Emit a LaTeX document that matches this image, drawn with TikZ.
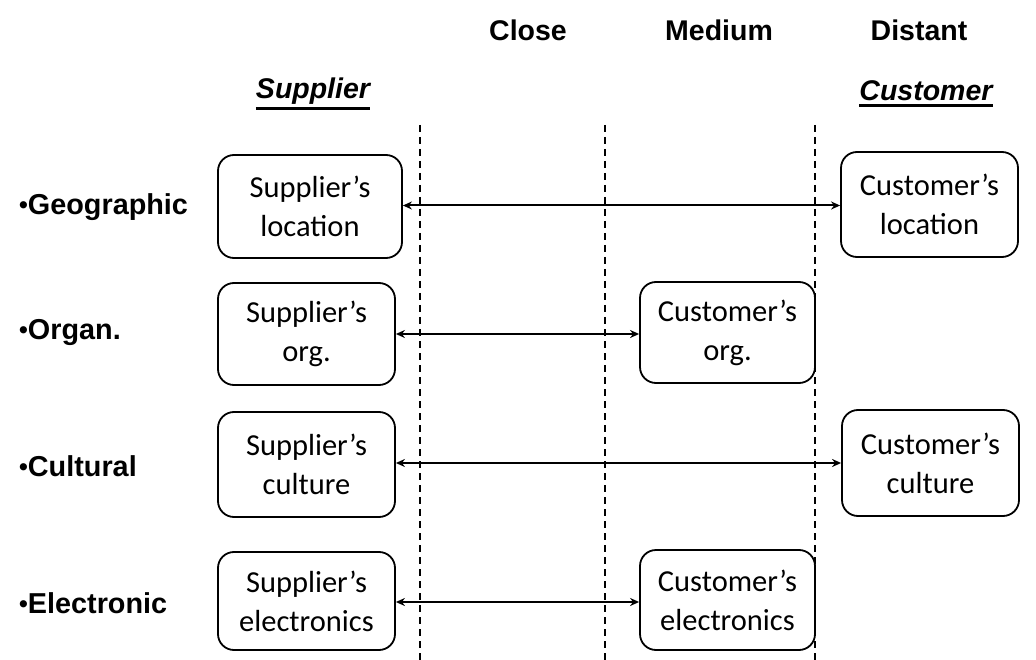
\documentclass[tikz,border=0pt]{standalone}
\usepackage{fontspec}
\setmainfont{Carlito}
\newfontfamily\arialish{Liberation Sans}
\usetikzlibrary{arrows.meta}

\tikzset{
  boxnode/.style={draw, line width=1.8pt, rounded corners=16pt, align=center,
    font=\fontsize{30.5}{39}\selectfont, inner sep=0pt},
  heading/.style={font=\arialish\bfseries\fontsize{28.5}{30}\selectfont, inner sep=0pt},
  rowlabel/.style={font=\arialish\bfseries\fontsize{28.8}{30}\selectfont, inner sep=0pt, anchor=west},
  sidelabel/.style={font=\arialish\bfseries\itshape\fontsize{28.5}{30}\selectfont, inner sep=0pt},
  divider/.style={line width=1.7pt, dash pattern=on 7pt off 5pt},
  link/.style={line width=2pt, {Stealth[length=9pt,width=8pt]}-{Stealth[length=9pt,width=8pt]}},
  uline/.style={line width=2.8pt}
}
\newcommand{\rowbullet}{{\fontsize{25}{25}\selectfont\raisebox{1pt}{•}}}

\begin{document}
\begin{tikzpicture}[x=1pt, y=-1pt]
  \useasboundingbox (0,0) rectangle (1036,660);

  % distance headings
  \node[heading] (close)   at (528,30) {Close};
  \node[heading] (medium)  at (719,30) {Medium};
  \node[heading] (distant) at (919,30) {Distant};

  % party headings, underlined
  \node[sidelabel] (suphead)  at (313,91) {Supplier};
  \node[sidelabel] (custhead) at (926,91) {Customer};
  \draw[uline] ([yshift=-4pt]suphead.south west) -- ([yshift=-4pt]suphead.south east);
  \draw[uline] ([yshift=-4pt]custhead.south west) -- ([yshift=-4pt]custhead.south east);

  % dashed dividers between distance zones
  \coordinate (d1t) at (420,125); \coordinate (d1b) at (420,660);
  \coordinate (d2t) at (605,125); \coordinate (d2b) at (605,660);
  \coordinate (d3t) at (815,125); \coordinate (d3b) at (815,660);
  \draw[divider] (d1t) -- (d1b);
  \draw[divider] (d2t) -- (d2b);
  \draw[divider] (d3t) -- (d3b);

  % row labels
  \node[rowlabel] (geo)  at (19,207) {\rowbullet Geographic};
  \node[rowlabel] (org)  at (19,332) {\rowbullet Organ.};
  \node[rowlabel] (cult) at (19,466) {\rowbullet Cultural};
  \node[rowlabel] (elec) at (19,603) {\rowbullet Electronic};

  % supplier side
  \node[boxnode, minimum width=184pt, minimum height=103pt] (sl) at (310,206.5) {Supplier’s\\location};
  \node[boxnode, minimum width=177pt, minimum height=102pt] (so) at (306.5,334) {Supplier’s\\org.};
  \node[boxnode, minimum width=177pt, minimum height=105pt] (sc) at (306.5,464.5) {Supplier’s\\culture};
  \node[boxnode, minimum width=177pt, minimum height=98pt]  (se) at (306.5,601) {Supplier’s\\electronics};

  % customer side
  \node[boxnode, minimum width=177pt, minimum height=105pt] (cl) at (929.5,204.5) {Customer’s\\location};
  \node[boxnode, minimum width=175pt, minimum height=101pt] (co) at (727.5,332.5) {Customer’s\\org.};
  \node[boxnode, minimum width=177pt, minimum height=106pt] (cc) at (930.5,463) {Customer’s\\culture};
  \node[boxnode, minimum width=175pt, minimum height=100pt] (ce) at (727.5,600) {Customer’s\\electronics};

  % distance links
  \draw[link] ([yshift=1pt]sl.east) -- ([yshift=1pt]sl.east -| cl.west);
  \draw[link] (so.east) -- (so.east -| co.west);
  \draw[link] ([yshift=1.5pt]sc.east) -- ([yshift=1.5pt]sc.east -| cc.west);
  \draw[link] ([yshift=-1pt]se.east) -- ([yshift=-1pt]se.east -| ce.west);
\end{tikzpicture}
\end{document}
